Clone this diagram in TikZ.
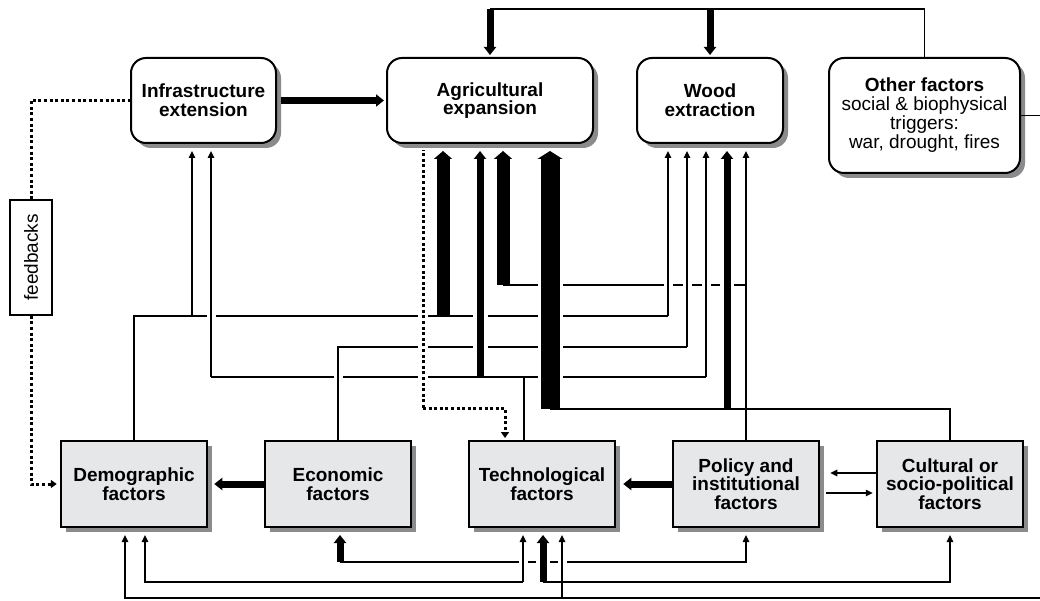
\documentclass[tikz,border=0pt]{standalone}
\usepackage{fontspec}
\setmainfont{Liberation Sans}
\usetikzlibrary{arrows.meta,shadows,positioning}
\definecolor{boxgray}{RGB}{230,231,232}
\definecolor{shadegray}{RGB}{138,139,141}

\tikzset{
  box/.style={draw,line width=2pt,inner sep=0pt,outer sep=0pt,align=center,
    font=\fontsize{19}{18.7}\selectfont\bfseries,
    drop shadow={shadow xshift=5pt,shadow yshift=-5pt,fill=shadegray,opacity=1}},
  cause/.style={box,fill=white,rounded corners=15pt,minimum height=85pt},
  driver/.style={box,fill=boxgray,minimum width=146.5pt,minimum height=86pt},
  wire/.style={line width=1.5pt},
  flow/.style={wire,-{Triangle[length=7pt,width=6.5pt]},shorten >=8pt},
  bigflow/.style={line width=7pt,-{Triangle[length=8pt,width=12pt]},shorten >=8pt},
  hugeflow/.style={line width=13pt,-{Triangle[length=8pt,width=18pt]},shorten >=8pt},
  giantflow/.style={line width=19pt,-{Triangle[length=8pt,width=25pt]},shorten >=8pt},
  fbline/.style={line width=3pt,dash pattern=on 3pt off 2.6pt},
  over/.style={preaction={draw=white,solid,line width=#1,-,shorten <=5pt,shorten >=8pt}},
}

\begin{document}
\begin{tikzpicture}[x=1pt,y=-1pt]
\useasboundingbox (0,0) rectangle (1040,601);

% proximate causes
\node[cause,minimum width=145pt] (inf) at (203.5,100.5) {Infrastructure\\extension};
\node[cause,minimum width=206pt] (agr) at (490,100.5) {Agricultural\\expansion};
\node[cause,minimum width=146pt] (wood) at (710,100.5) {Wood\\extraction};
\node[cause,font=\fontsize{19}{19}\selectfont,minimum width=191pt,minimum height=115pt] (oth) at (924.5,115.5)
  {\textbf{Other factors}\\social \& biophysical\\triggers:\\war, drought, fires};

% underlying driving forces
\node[driver] (dem) at (134,484) {Demographic\\factors};
\node[driver,right=57.5pt of dem] (eco) {Economic\\factors};
\node[driver,right=57.5pt of eco] (tec) {Technological\\factors};
\node[driver,right=57.5pt of tec] (pol) {Policy and\\institutional\\factors};
\node[driver,right=57.5pt of pol] (cul) {Cultural or\\socio-political\\factors};

\node[draw,line width=1.5pt,minimum width=42pt,minimum height=115pt,inner sep=0pt,
  font=\fontsize{19}{19}\selectfont] (fb) at (31,257.5) {\rotatebox{90}{feedbacks}};

% buses
\draw[wire] (dem.north) -- ++(0,-125) coordinate (dembus) -- ([xshift=-42pt]wood.south |- dembus);
\draw[wire] (eco.north) -- ++(0,-94) coordinate (ecobus) -- ([xshift=-23pt]wood.south |- ecobus);
\draw[wire] ([xshift=-18pt]tec.north) -- ++(0,-64) coordinate (tecbus);
\draw[wire] ([xshift=7.5pt]inf.south |- tecbus) -- ([xshift=-4pt]wood.south |- tecbus);
\draw[wire] (pol.north) ++(0,-156) coordinate (polbus) -- ([xshift=13pt]agr.south |- polbus);
\draw[wire] (cul.north) -- ++(0,-32) coordinate (culbus) -- ([xshift=60pt]agr.south |- culbus);
\draw[wire] (oth.north) -- ++(0,-49) coordinate (othbus) -- (agr.north |- othbus);

% feedback loop
\draw[fbline] (inf.west) -| (fb.north);
\draw[fbline,-{Triangle[length=6pt,width=8pt]},shorten >=4pt] (fb.south) |- (dem.west);
\draw[fbline,over=10pt,shorten >=7pt] ([xshift=-67pt,yshift=-265pt]agr.south) coordinate (dotcorner) -- ([xshift=-67pt]agr.south);
\draw[fbline,-{Triangle[length=6pt,width=8pt]},shorten >=3pt] (dotcorner) -| ([xshift=-37pt]tec.north);

% arrows into the proximate causes
\draw[flow,over=9pt] ([xshift=-42pt]wood.south |- dembus) -- ([xshift=-42pt]wood.south);
\draw[flow] ([xshift=-11.5pt]inf.south |- dembus) -- ([xshift=-11.5pt]inf.south);
\draw[hugeflow] ([xshift=-47pt]agr.south |- dembus) -- ([xshift=-47pt]agr.south);
\draw[wire,over=9pt] (ecobus) -- (eco.north);
\draw[flow,over=9pt] ([xshift=-23pt]wood.south |- ecobus) -- ([xshift=-23pt]wood.south);
\draw[flow,over=9pt] ([xshift=7.5pt]inf.south |- tecbus) -- ([xshift=7.5pt]inf.south);
\draw[flow,over=9pt] ([xshift=-4pt]wood.south |- tecbus) -- ([xshift=-4pt]wood.south);
\draw[bigflow,over=15pt] ([xshift=-10pt]agr.south |- tecbus) -- ([xshift=-10pt]agr.south);
\draw[flow] (pol.north) -- ([xshift=36pt]wood.south);
\draw[hugeflow] ([xshift=13pt]agr.south |- polbus) -- ([xshift=13pt]agr.south);
\draw[giantflow,over=25pt] ([xshift=60pt]agr.south |- culbus) -- ([xshift=60pt]agr.south);
\draw[bigflow,over=14pt] ([xshift=17pt]wood.south |- culbus) -- ([xshift=17pt]wood.south);
\draw[bigflow,shorten >=3pt] (agr.north |- othbus) -- (agr.north);
\draw[bigflow,shorten >=3pt] (wood.north |- othbus) -- (wood.north);
\draw[bigflow,shorten >=3pt] ([xshift=5pt]inf.east) -- (agr.west);

% links between the driving forces
\draw[bigflow,shorten >=7pt] (eco.west) -- (dem.east);
\draw[bigflow] (pol.west) -- (tec.east);
\draw[flow,shorten >=11pt] ([yshift=11pt]cul.west) -- ([yshift=11pt]pol.east);
\draw[flow,shorten >=4pt] ([xshift=7pt,yshift=-9pt]pol.east) -- ([yshift=-9pt]cul.west);

\draw[flow] ([xshift=2pt,yshift=-35pt]eco.south) coordinate (ecolow) -| (pol.south);
\draw[bigflow] (ecolow) -- ([xshift=2pt]eco.south);
\draw[flow,over=9pt] ([xshift=20pt,yshift=-71pt]tec.south) -- ([xshift=20pt]tec.south);
\draw[flow] ([xshift=1pt,yshift=-55pt]tec.south) coordinate (tecmid) -| (cul.south);
\draw[bigflow,over=14pt] (tecmid) -- ([xshift=1pt]tec.south);
\draw[flow] ([xshift=-19pt,yshift=-55pt]tec.south) coordinate (teclow) -| ([xshift=11pt]dem.south);
\draw[flow,over=9pt] (teclow) -- ([xshift=-19pt]tec.south);
\draw[flow] (oth.east) -- ++(30,0) |- ([xshift=-9pt,yshift=-71pt]dem.south) -- ([xshift=-9pt]dem.south);
\end{tikzpicture}
\end{document}
